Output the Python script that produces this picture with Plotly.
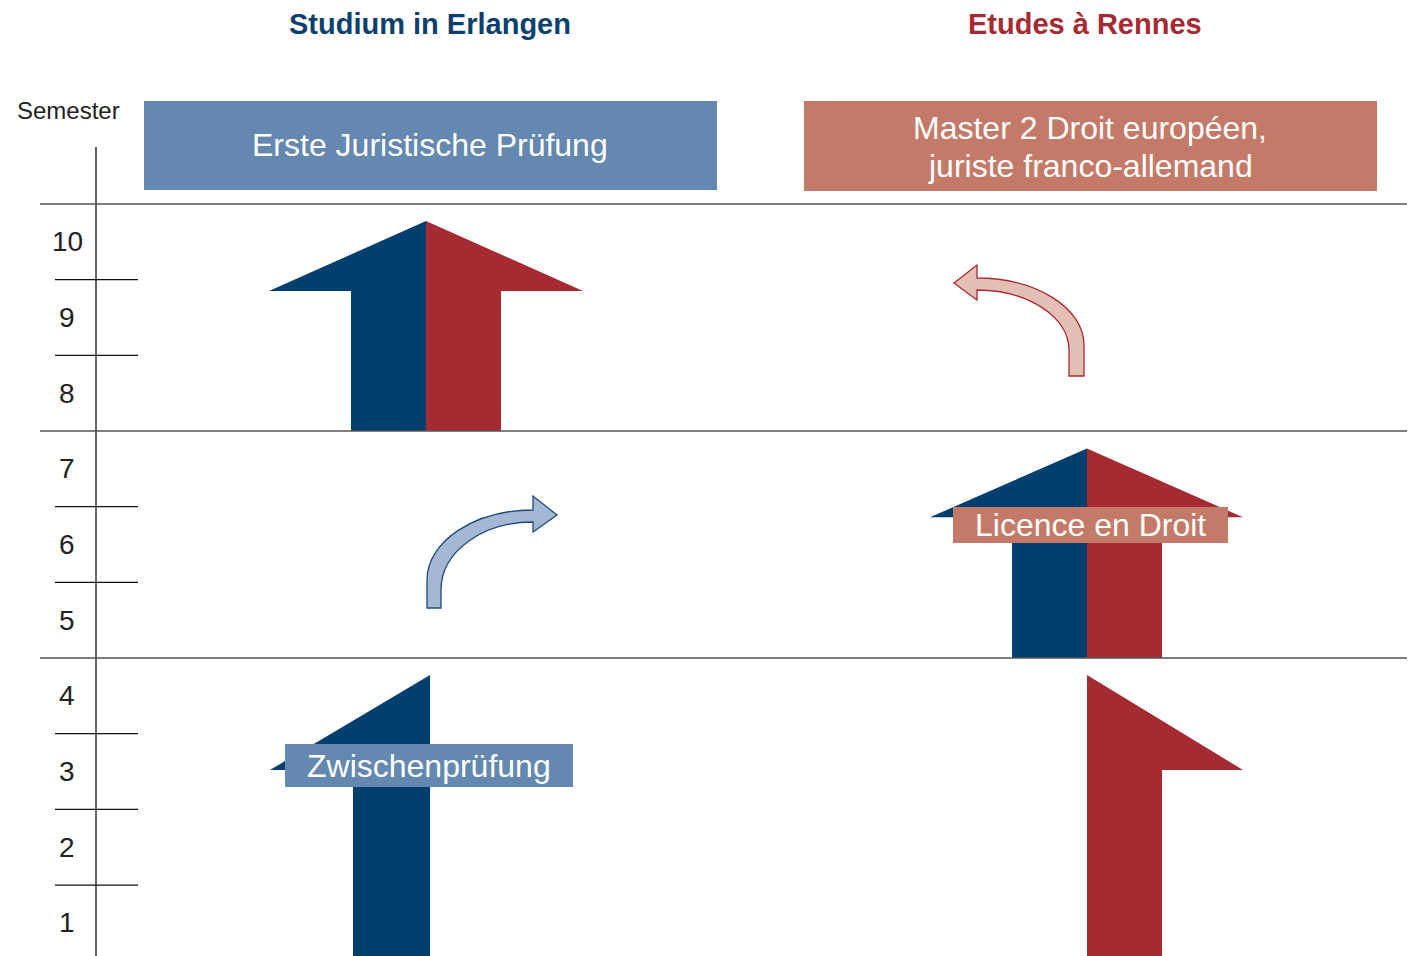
import plotly.graph_objects as go

# ---------------- data ----------------
semesters = [1, 2, 3, 4, 5, 6, 7, 8, 9, 10]
phase_ends = [4, 7, 10]                 # long separator lines (end of each phase)
minor_ticks = [s for s in semesters if s not in phase_ends]
tick_labels = [str(s) for s in semesters]

columns = ["Studium in Erlangen", "Etudes à Rennes"]
column_colors = ["#0d3f6e", "#a62a32"]
diplomas = ["Erste Juristische Prüfung", "Master 2 Droit européen,<br>juriste franco-allemand"]
phase_labels = ["Zwischenprüfung", "Licence en Droit"]

NAVY = "#003f6e"
RED = "#a62a32"
BOX_BLUE = "#6488b0"
BOX_RED = "#c47a68"
FONT = "Liberation Sans, Arial, sans-serif"

# ---------------- geometry helpers (layout only) ----------------
PX_PER_SEM = 75.67
PY_ZERO = 960.7
W, H = 1410, 956


def y_of(py):
    return (PY_ZERO - py) / PX_PER_SEM


fig = go.Figure()


def poly(xs, ys, color, line_color=None, width=0):
    fig.add_trace(go.Scatter(
        x=xs + [xs[0]], y=ys + [ys[0]], mode="lines", fill="toself",
        fillcolor=color, line=dict(color=line_color or color, width=width),
        hoverinfo="skip", showlegend=False))


def half_arrow(x_mid, x_shaft, x_head, start, base, tip, color):
    xs = [x_mid, x_head, x_shaft, x_shaft, x_mid]
    ys = [tip, base, base, start, start]
    poly(xs, ys, color)


# Erlangen: semesters 8-10 (joint arrow)
s0, s1 = phase_ends[1], phase_ends[2]
half_arrow(426, 351, 269, s0, s1 - 1.15, s1 - 0.225, NAVY)
half_arrow(426, 501, 583, s0, s1 - 1.15, s1 - 0.225, RED)
# Rennes: semesters 5-7 (joint arrow)
s0, s1 = phase_ends[0], phase_ends[1]
half_arrow(1087, 1012, 930, s0, s1 - 1.14, s1 - 0.23, NAVY)
half_arrow(1087, 1162, 1243, s0, s1 - 1.14, s1 - 0.23, RED)
# semesters 1-4 half arrows
s0, s1 = 0, phase_ends[0]
half_arrow(430, 353, 270, s0, s1 - 1.48, s1 - 0.224, NAVY)
half_arrow(1087, 1162, 1243, s0, s1 - 1.48, s1 - 0.224, RED)

shapes = []


def path_px(cmds):
    out = []
    for letter, pts in cmds:
        if letter == "Z":
            out.append("Z")
            continue
        coords = []
        for i in range(0, len(pts), 2):
            coords.append(f"{pts[i]},{y_of(pts[i+1]):.4f}")
        out.append(letter + " " + " ".join(coords))
    return " ".join(out)


# curved arrow (Erlangen -> Rennes)
shapes.append(dict(
    type="path", xref="x", yref="y",
    path=path_px([("M", [427, 608]), ("L", [427, 580]),
                  ("C", [427, 541, 475, 510, 533, 510]),
                  ("L", [533, 496]), ("L", [557, 515]), ("L", [533, 532]), ("L", [533, 522]),
                  ("C", [482, 522, 441, 552, 441, 590]),
                  ("L", [441, 608]), ("Z", [])]),
    fillcolor="#a5b8d3", line=dict(color="#1d4c78", width=1.3)))
# curved arrow (Rennes -> Erlangen)
shapes.append(dict(
    type="path", xref="x", yref="y",
    path=path_px([("M", [1069, 376]), ("L", [1069, 350]),
                  ("C", [1069, 317, 1028, 290, 977, 290]),
                  ("L", [977, 300]), ("L", [954, 283]), ("L", [977, 265]), ("L", [977, 278]),
                  ("C", [1036, 278, 1084, 308, 1084, 345]),
                  ("L", [1084, 376]), ("Z", [])]),
    fillcolor="#e3c0b3", line=dict(color="#a62a32", width=1.3)))

# axis lines
shapes.append(dict(type="line", xref="x", yref="y", x0=96, x1=96, y0=0, y1=y_of(147),
                   line=dict(color="#111111", width=1.3)))
for p in phase_ends:
    shapes.append(dict(type="line", xref="x", yref="y", x0=40, x1=1407, y0=p, y1=p,
                       line=dict(color="#555555", width=1.5)))
for t in minor_ticks:
    shapes.append(dict(type="line", xref="x", yref="y", x0=55, x1=138, y0=t, y1=t,
                       line=dict(color="#111111", width=1.3)))

# boxes
box_specs = [
    (144, 717, 101, 190, BOX_BLUE),
    (804, 1377, 101, 191, BOX_RED),
    (285, 573, 744, 787, BOX_BLUE),
    (953, 1228, 507, 543, BOX_RED),
]
for x0, x1, py0, py1, c in box_specs:
    shapes.append(dict(type="rect", xref="x", yref="y", x0=x0, x1=x1,
                       y0=y_of(py1), y1=y_of(py0), fillcolor=c, line=dict(width=0), layer="above"))

annotations = []
# column titles
for txt, c, x in zip(columns, column_colors, [430, 1085]):
    annotations.append(dict(x=x, y=y_of(24), xref="x", yref="y", text=f"<b>{txt}</b>",
                            showarrow=False, font=dict(family=FONT, size=29, color=c)))
annotations.append(dict(x=68, y=y_of(110), xref="x", yref="y", text="Semester",
                        showarrow=False, font=dict(family=FONT, size=24, color="#222222")))
for s, lab in zip(semesters, tick_labels):
    annotations.append(dict(x=67, y=s - 0.5, xref="x", yref="y", text=lab,
                            showarrow=False, font=dict(family=FONT, size=28, color="#222222")))
master_lines = diplomas[1].split("<br>")
label_pos = [(430, 145, diplomas[0]), (1090, 128, master_lines[0]), (1090, 166, master_lines[1]),
             (429, 766, phase_labels[0]), (1090, 525, phase_labels[1])]
for x, py, txt in label_pos:
    annotations.append(dict(x=x, y=y_of(py), xref="x", yref="y", text=txt,
                            showarrow=False, font=dict(family=FONT, size=32, color="white")))

fig.update_layout(
    width=W, height=H, margin=dict(l=0, r=0, t=0, b=0),
    paper_bgcolor="white", plot_bgcolor="white",
    xaxis=dict(range=[0, W], visible=False, fixedrange=True),
    yaxis=dict(range=[y_of(H), y_of(0)], visible=False, fixedrange=True),
    shapes=shapes, annotations=annotations, showlegend=False,
)

fig.write_html("out.html", config={"displayModeBar": False},
               post_script="document.body.style.margin='0px';document.body.style.overflow='hidden';")
